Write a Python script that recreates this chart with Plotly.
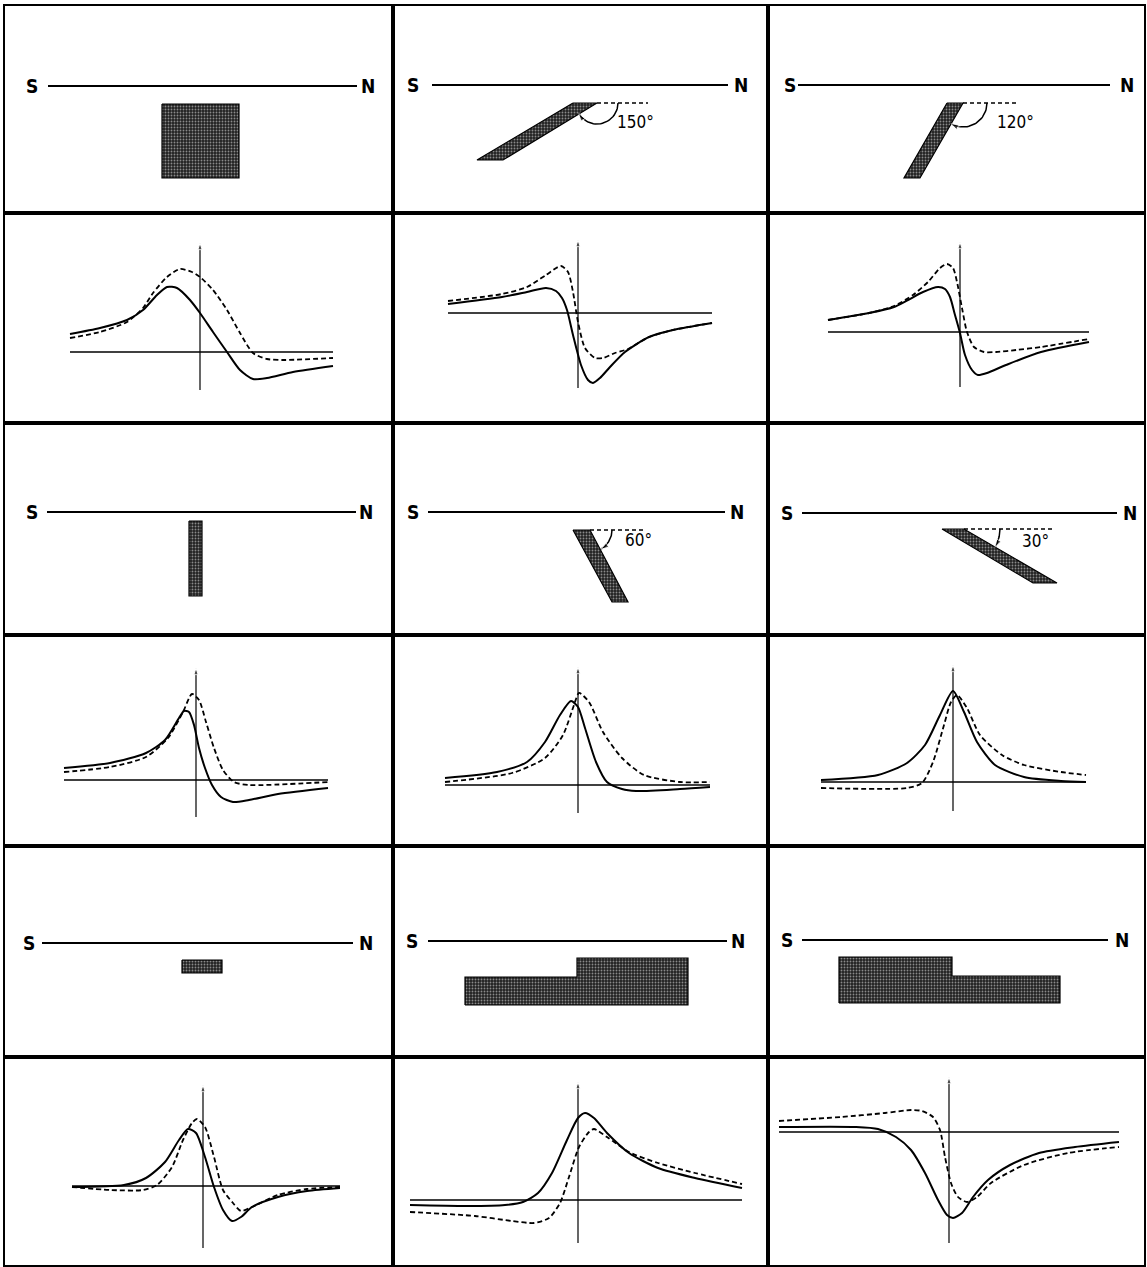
import math
import plotly.graph_objects as go

# ------------------------------------------------------------------
# DATA  (anomaly profiles: x = distance from profile origin, +toward N;
#        y = anomaly, positive up.  Bodies: x as above, depth positive down)
# ------------------------------------------------------------------
# square block
block_solid_x = [-130, -100, -73, -57, -43, -33, -23, -10, 0, 13, 27, 40, 53, 67, 93, 133]
block_solid_y = [18, 24, 32, 42, 57, 65, 64, 52, 39, 20, 0, -18, -27, -26, -20, -14]
block_dash_x = [-130, -100, -73, -57, -47, -33, -20, -8, 0, 13, 27, 40, 53, 67, 83, 133]
block_dash_y = [14, 20, 30, 44, 59, 75, 83, 80, 75, 62, 42, 19, -1, -7, -8, -6]

# dip 150
dip150_solid_x = [-130, -76, -51, -32, -22, -16, -11, -5, 3, 10, 15, 22, 32, 47, 71, 95, 134]
dip150_solid_y = [9, 16, 21, 25, 22, 15, 3, -22, -52, -67, -70, -65, -54, -39, -24, -17, -10]
dip150_dash_x = [-130, -76, -51, -32, -17, -10, -5, 0, 7, 17, 25, 37, 50, 62, 71, 95, 134]
dip150_dash_y = [12, 19, 26, 38, 47, 41, 21, -9, -35, -45, -45, -40, -36, -29, -24, -17, -10]

# dip 120
dip120_solid_x = [-132, -91, -66, -52, -37, -22, -15, -10, -5, 0, 5, 12, 18, 27, 46, 81, 129]
dip120_solid_y = [12, 19, 25, 32, 40, 45, 43, 35, 17, -1, -23, -38, -43, -41, -33, -20, -10]
dip120_dash_x = [-132, -91, -66, -47, -32, -20, -13, -7, -3, 2, 7, 14, 24, 36, 56, 81, 129]
dip120_dash_y = [12, 19, 26, 37, 50, 64, 68, 64, 50, 24, 0, -15, -20, -20, -18, -15, -7]

# vertical dyke
vert_solid_x = [-132, -86, -50, -31, -17, -12, -7, -2, 3, 9, 16, 25, 37, 53, 82, 132]
vert_solid_y = [12, 17, 27, 40, 62, 69, 68, 55, 32, 12, -5, -17, -22, -20, -14, -8]
vert_dash_x = [-132, -86, -50, -28, -13, -4, 3, 10, 18, 27, 38, 53, 132]
vert_dash_y = [8, 13, 23, 42, 68, 86, 80, 58, 32, 10, -2, -5, -2]

# dip 60
dip60_solid_x = [-133, -81, -51, -33, -18, -7, 0, 7, 18, 29, 44, 58, 102, 132]
dip60_solid_y = [7, 13, 23, 43, 70, 84, 78, 57, 23, 3, -4, -6, -4, -2]
dip60_dash_x = [-133, -66, -33, -15, -4, 1, 11, 25, 44, 66, 102, 132]
dip60_dash_y = [3, 12, 27, 50, 80, 92, 83, 53, 27, 10, 3, 3]

# dip 30
dip30_solid_x = [-132, -75, -46, -28, -13, 0, 11, 24, 42, 71, 108, 133]
dip30_solid_y = [2, 7, 19, 37, 67, 91, 70, 40, 17, 5, 1, 0]
dip30_dash_x = [-132, -46, -31, -20, -9, -2, 4, 14, 27, 49, 71, 108, 133]
dip30_dash_y = [-6, -6, -1, 20, 57, 80, 87, 74, 47, 27, 17, 10, 7]

# small block
small_solid_x = [-131, -79, -57, -38, -24, -15, -7, 2, 11, 20, 29, 38, 49, 75, 104, 137]
small_solid_y = [-1, 1, 8, 24, 46, 57, 53, 29, -1, -24, -35, -31, -21, -11, -5, -2]
small_dash_x = [-131, -93, -60, -46, -31, -20, -11, -6, 2, 11, 20, 30, 38, 49, 75, 104, 137]
small_dash_y = [-1, -4, -4, 1, 19, 46, 63, 67, 59, 29, -4, -17, -25, -21, -9, -3, -1]

# step up to the north
stepN_solid_x = [-168, -110, -73, -55, -40, -26, -11, 0, 7, 16, 29, 51, 80, 117, 164]
stepN_solid_y = [-5, -6, -5, -2, 7, 27, 60, 82, 87, 82, 67, 47, 32, 22, 12]
stepN_dash_x = [-168, -103, -66, -44, -29, -18, -9, 1, 11, 16, 29, 51, 80, 117, 164]
stepN_dash_y = [-12, -16, -21, -23, -18, -3, 23, 53, 68, 71, 63, 48, 37, 27, 16]

# step up to the south
stepS_solid_x = [-170, -93, -71, -53, -38, -24, -11, -2, 4, 13, 24, 39, 61, 90, 126, 170]
stepS_solid_y = [5, 5, 3, -5, -18, -41, -68, -83, -86, -81, -65, -48, -33, -21, -15, -10]
stepS_dash_x = [-170, -108, -64, -38, -27, -16, -9, -4, 2, 9, 18, 28, 42, 75, 119, 170]
stepS_dash_y = [11, 15, 19, 22, 21, 15, 2, -25, -51, -65, -70, -65, -51, -33, -21, -15]

# causative bodies (cross sections)
block_body_x = [-38, 39, 39, -38]
block_body_d = [18, 18, 92, 92]
dip150_body_x = [-5, 19, -75, -101]
dip150_body_d = [18, 18, 75, 75]
dip120_body_x = [-13, 3, -40, -56]
dip120_body_d = [18, 18, 93, 93]
vert_body_x = [-7, 6, 6, -7]
vert_body_d = [9, 9, 84, 84]
dip60_body_x = [-5, 12, 50, 34]
dip60_body_d = [18, 18, 90, 90]
dip30_body_x = [-11, 11, 104, 80]
dip30_body_d = [16, 16, 70, 70]
small_body_x = [-21, 19, 19, -21]
small_body_d = [17, 17, 30, 30]
stepN_body_x = [-113, -113, -1, -1, 110, 110]
stepN_body_d = [64, 36, 36, 17, 17, 64]
stepS_body_x = [-110, -110, 3, 3, 111, 111]
stepS_body_d = [63, 17, 17, 36, 36, 63]

dip_angles = {"dip150": 150, "dip120": 120, "dip60": 60, "dip30": 30}

# ------------------------------------------------------------------
# LAYOUT
# ------------------------------------------------------------------
W, H = 1147, 1267
XB = [5, 393, 768, 1144]
YB = [6, 213, 423, 635, 846, 1057, 1265]
FONT = "Liberation Sans Narrow, DejaVu Sans Condensed, Arial Narrow, sans-serif"

fig = go.Figure()


def names(r, c):
    i = r * 3 + c + 1
    s = "" if i == 1 else str(i)
    return s, "x" + s, "y" + s


def set_axes(r, c, xr, yr):
    s, xa, ya = names(r, c)
    common = dict(showgrid=False, zeroline=False, showticklabels=False, ticks="",
                  showline=True, mirror=True, linecolor="black", linewidth=2,
                  fixedrange=True)
    fig.update_layout(**{
        "xaxis" + s: dict(domain=[XB[c] / W, XB[c + 1] / W], range=xr, anchor=ya, **common),
        "yaxis" + s: dict(domain=[1 - YB[r + 1] / H, 1 - YB[r] / H], range=yr, anchor=xa, **common),
    })
    return xa, ya


def line(xa, ya, x, y, **kw):
    fig.add_trace(go.Scatter(x=x, y=y, mode="lines", xaxis=xa, yaxis=ya,
                             hoverinfo="skip", showlegend=False, **kw))


def curve_panel(r, c, origin, ext, sx, sy, dx, dy):
    ox, oy = origin
    (x0, x1), (y0, y1) = ext
    xa, ya = set_axes(r, c, [XB[c] - ox, XB[c + 1] - ox], [oy - YB[r + 1], oy - YB[r]])
    line(xa, ya, [x0, x1], [0, 0], line=dict(color="black", width=1.6))
    fig.add_trace(go.Scatter(x=[0, 0], y=[y0, y1], mode="lines+markers", xaxis=xa, yaxis=ya,
                             line=dict(color="black", width=1.2),
                             marker=dict(symbol="arrow", size=[0, 7], angleref="previous",
                                         color="black"),
                             hoverinfo="skip", showlegend=False))
    line(xa, ya, sx, sy, line=dict(color="black", width=2, shape="spline", smoothing=0.7))
    line(xa, ya, dx, dy, line=dict(color="black", width=1.8, dash="5px,3px",
                                   shape="spline", smoothing=0.7))


def diagram_panel(r, c, ax_x, line_y, sn, bx, bd, dip=None):
    xa, ya = set_axes(r, c, [XB[c] - ax_x, XB[c + 1] - ax_x],
                      [YB[r + 1] - line_y, YB[r] - line_y])
    (lx0, lx1), (sxp, nxp) = sn
    line(xa, ya, [lx0, lx1], [0, 0], line=dict(color="black", width=2))
    for txt, xp in (("S", sxp), ("N", nxp)):
        fig.add_annotation(x=xp, y=0, xref=xa, yref=ya, text=f"<b>{txt}</b>", showarrow=False,
                           xanchor="center", yanchor="middle",
                           font=dict(family=FONT, size=19, color="black"))
    fig.add_trace(go.Scatter(x=bx + [bx[0]], y=bd + [bd[0]], mode="lines", fill="toself",
                             xaxis=xa, yaxis=ya, line=dict(color="black", width=1.2),
                             fillcolor="#2b2b2b",
                             fillpattern=dict(shape=".", bgcolor="#222222", fgcolor="#8a8a8a",
                                              size=3, solidity=0.3, fillmode="replace"),
                             hoverinfo="skip", showlegend=False))
    if dip is not None:
        ang, (px, pd), dash_end, rad, (lx, ly) = dip
        line(xa, ya, [px, dash_end], [pd, pd], line=dict(color="black", width=1.5, dash="4px,3px"))
        n = 30
        ax = [px + rad * math.cos(math.radians(ang * k / n)) for k in range(n + 1)]
        ay = [pd + rad * math.sin(math.radians(ang * k / n)) for k in range(n + 1)]
        fig.add_trace(go.Scatter(x=ax, y=ay, mode="lines+markers", xaxis=xa, yaxis=ya,
                                 line=dict(color="black", width=1.5),
                                 marker=dict(symbol="arrow", size=[0] * n + [8],
                                             angleref="previous", color="black"),
                                 hoverinfo="skip", showlegend=False))
        fig.add_annotation(x=lx, y=ly, xref=xa, yref=ya, text=f"{ang}°", showarrow=False,
                           xanchor="center", yanchor="middle",
                           font=dict(family=FONT, size=17, color="black"))


# row 1 / 2
diagram_panel(0, 0, 200, 86, ((-152, 157), (-168, 168)), block_body_x, block_body_d)
diagram_panel(0, 1, 578, 85, ((-146, 150), (-165, 163)), dip150_body_x, dip150_body_d,
              (dip_angles["dip150"], (19, 18), 70, 21, (57, 37)))
diagram_panel(0, 2, 960, 85, ((-162, 150), (-170, 167)), dip120_body_x, dip120_body_d,
              (dip_angles["dip120"], (3, 18), 57, 24, (55, 37)))
curve_panel(1, 0, (200, 352), ((-130, 133), (-38, 109)),
            block_solid_x, block_solid_y, block_dash_x, block_dash_y)
curve_panel(1, 1, (578, 313), ((-130, 134), (-75, 73)),
            dip150_solid_x, dip150_solid_y, dip150_dash_x, dip150_dash_y)
curve_panel(1, 2, (960, 332), ((-132, 129), (-55, 90)),
            dip120_solid_x, dip120_solid_y, dip120_dash_x, dip120_dash_y)

# row 3 / 4
diagram_panel(2, 0, 196, 512, ((-149, 160), (-164, 170)), vert_body_x, vert_body_d)
diagram_panel(2, 1, 578, 512, ((-150, 147), (-165, 159)), dip60_body_x, dip60_body_d,
              (dip_angles["dip60"], (12, 18), 65, 22, (60, 28)))
diagram_panel(2, 2, 953, 513, ((-151, 164), (-166, 177)), dip30_body_x, dip30_body_d,
              (dip_angles["dip30"], (11, 16), 99, 36, (82, 28)))
curve_panel(3, 0, (196, 780), ((-132, 132), (-37, 112)),
            vert_solid_x, vert_solid_y, vert_dash_x, vert_dash_y)
curve_panel(3, 1, (578, 785), ((-133, 132), (-28, 118)),
            dip60_solid_x, dip60_solid_y, dip60_dash_x, dip60_dash_y)
curve_panel(3, 2, (953, 782), ((-132, 133), (-29, 117)),
            dip30_solid_x, dip30_solid_y, dip30_dash_x, dip30_dash_y)

# row 5 / 6
diagram_panel(4, 0, 203, 943, ((-161, 150), (-174, 163)), small_body_x, small_body_d)
diagram_panel(4, 1, 578, 941, ((-150, 149), (-166, 160)), stepN_body_x, stepN_body_d)
diagram_panel(4, 2, 949, 940, ((-147, 159), (-162, 173)), stepS_body_x, stepS_body_d)
curve_panel(5, 0, (203, 1186), ((-131, 137), (-62, 101)),
            small_solid_x, small_solid_y, small_dash_x, small_dash_y)
curve_panel(5, 1, (578, 1200), ((-168, 164), (-43, 118)),
            stepN_solid_x, stepN_solid_y, stepN_dash_x, stepN_dash_y)
curve_panel(5, 2, (949, 1132), ((-170, 170), (-111, 55)),
            stepS_solid_x, stepS_solid_y, stepS_dash_x, stepS_dash_y)

fig.update_layout(width=W, height=H, margin=dict(l=0, r=0, t=0, b=0),
                  paper_bgcolor="white", plot_bgcolor="white", showlegend=False)

fig.write_html("out.html", config={"displayModeBar": False},
               post_script="document.body.style.margin='0px';document.body.style.overflow='hidden';")
